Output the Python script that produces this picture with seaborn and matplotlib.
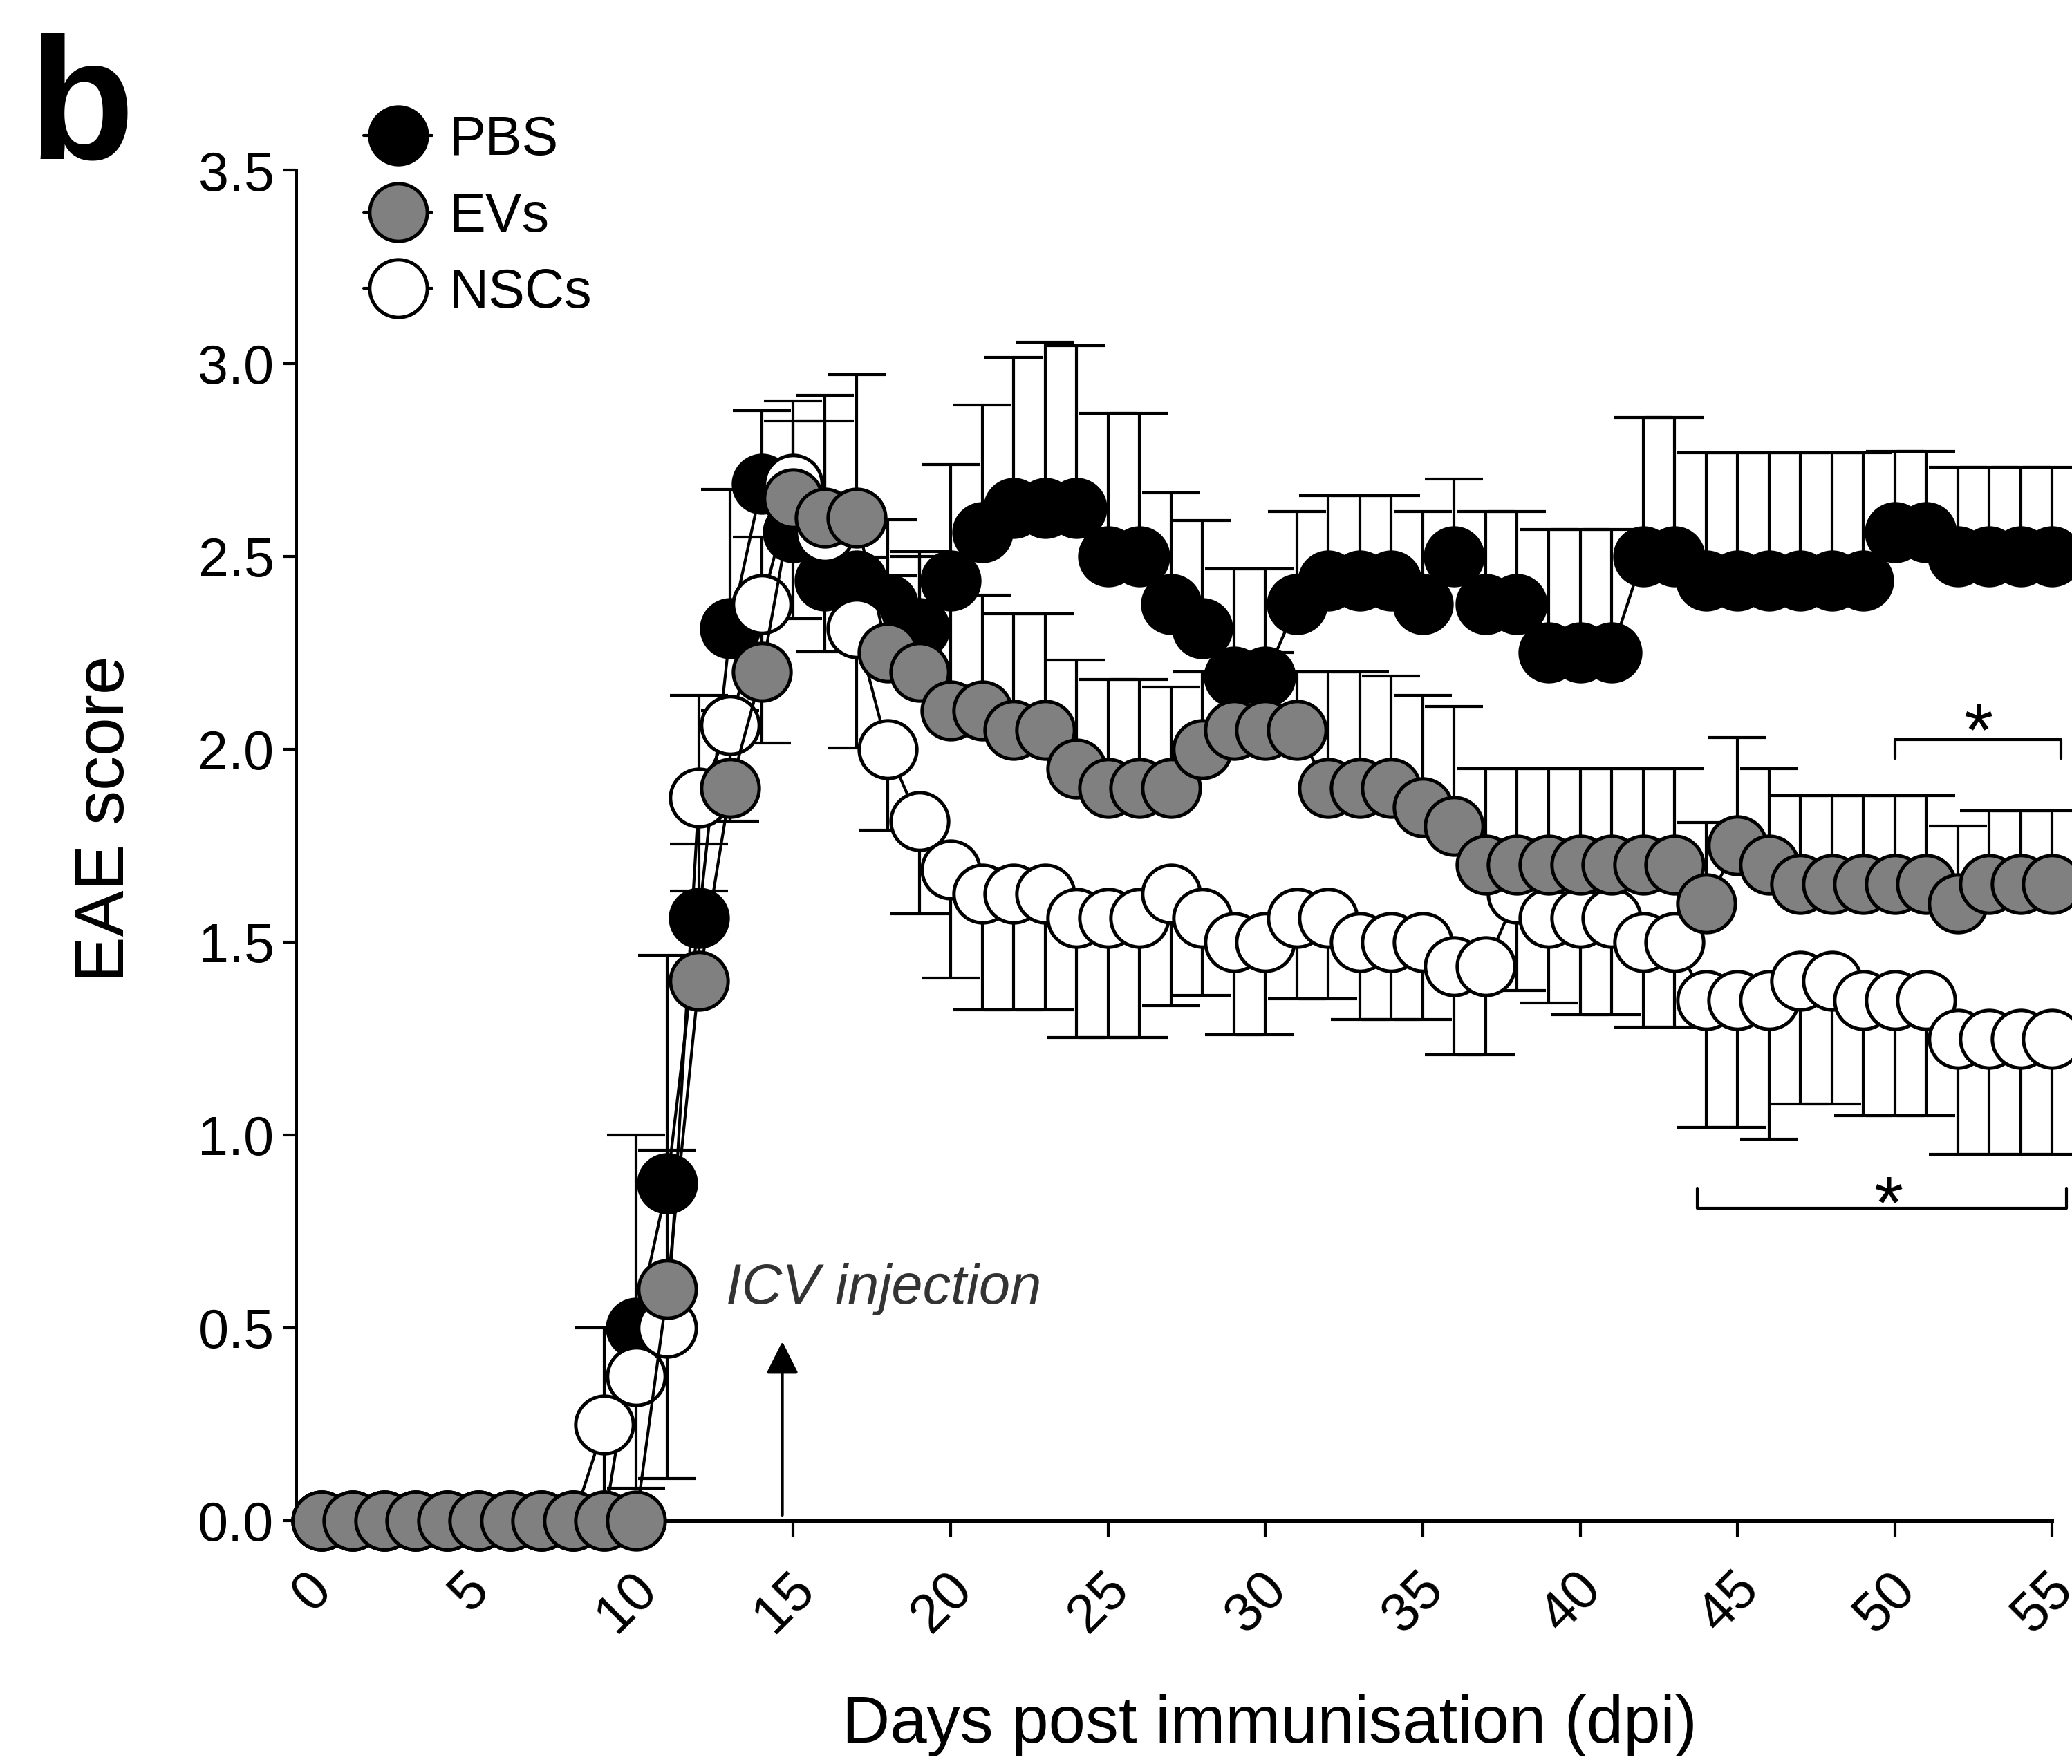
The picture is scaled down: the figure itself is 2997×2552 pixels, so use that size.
import matplotlib
matplotlib.use("Agg")
import matplotlib.pyplot as plt
import matplotlib.transforms as mtransforms
import seaborn as sns
import numpy as np
import pandas as pd

# EAE clinical score, days 0-55 post immunisation
days = list(range(56))

pbs_mean = ([0.0] * 10 + [0.5, 0.875, 1.5625, 2.3125, 2.6875, 2.5625, 2.4375, 2.4375, 2.375, 2.3125,
            2.4375, 2.5625, 2.625, 2.625, 2.625, 2.5, 2.5, 2.375, 2.3125, 2.1875,
            2.1875, 2.375, 2.4375, 2.4375, 2.4375, 2.375, 2.5, 2.375, 2.375, 2.25,
            2.25, 2.25, 2.5, 2.5] + [2.4375] * 6 + [2.5625, 2.5625, 2.5, 2.5, 2.5, 2.5])
evs_mean = ([0.0] * 11 + [0.6, 1.4, 1.9, 2.2, 2.65, 2.6, 2.6, 2.25, 2.2,
            2.1, 2.1, 2.05, 2.05, 1.95, 1.9, 1.9, 1.9, 2.0, 2.05,
            2.05, 2.05, 1.9, 1.9, 1.9, 1.85, 1.8] + [1.7] * 7 + [1.6, 1.75, 1.7]
            + [1.65] * 5 + [1.6, 1.65, 1.65, 1.65])
nsc_mean = ([0.0] * 9 + [0.25, 0.375, 0.5, 1.875, 2.0625, 2.375, 2.6875, 2.5625, 2.3125, 2.0, 1.8125,
            1.6875, 1.625, 1.625, 1.625, 1.5625, 1.5625, 1.5625, 1.625, 1.5625, 1.5,
            1.5, 1.5625, 1.5625, 1.5, 1.5, 1.5, 1.4375, 1.4375, 1.625, 1.5625,
            1.5625, 1.5625, 1.5, 1.5, 1.35, 1.35, 1.35, 1.4, 1.4, 1.35,
            1.35, 1.35, 1.25, 1.25, 1.25, 1.25])

# SEM (PBS and EVs drawn upwards, NSCs downwards)
pbs_sem = ([0.0] * 10 + [0.5, 0.59, 0.07, 0.36, 0.19, 0.34, 0.48, 0.06, 0.22, 0.2,
           0.3, 0.33, 0.39, 0.43, 0.42, 0.37, 0.37, 0.29, 0.28, 0.28,
           0.28, 0.24, 0.22, 0.22, 0.22, 0.24, 0.2, 0.24, 0.24, 0.32,
           0.32, 0.32, 0.36, 0.36] + [0.33] * 6 + [0.21, 0.21, 0.23, 0.23, 0.23, 0.23])
evs_sem = ([0.0] * 11 + [0.36, 0.74, 0.2, 0.35, 0.2, 0.25, 0.37, 0.2, 0.3,
           0.34, 0.3, 0.3, 0.3, 0.28, 0.28, 0.28, 0.26, 0.2, 0.2,
           0.2, 0.15, 0.3, 0.3, 0.29, 0.29, 0.31] + [0.25] * 7 + [0.21, 0.28, 0.25]
           + [0.23] * 5 + [0.2, 0.19, 0.19, 0.19])
nsc_sem = ([0.0] * 9 + [0.25, 0.29, 0.39, 0.12, 0.25, 0.36, 0.35, 0.31, 0.31, 0.21, 0.24,
           0.28, 0.3, 0.3, 0.3, 0.31, 0.31, 0.31, 0.29, 0.2, 0.24,
           0.24, 0.21, 0.21, 0.2, 0.2, 0.2, 0.23, 0.23, 0.25, 0.22,
           0.25, 0.25, 0.22, 0.22, 0.33, 0.33, 0.36, 0.32, 0.32, 0.3,
           0.3, 0.3, 0.3, 0.3, 0.3, 0.3])
nsc_sem_up = [0.0] * 9 + [0.25] + [0.0] * 46

groups = ["PBS", "EVs", "NSCs"]
face_colors = {"PBS": "#000000", "EVs": "#808080", "NSCs": "#ffffff"}

df = pd.DataFrame({
    "day": days * 3,
    "group": ["PBS"] * 56 + ["EVs"] * 56 + ["NSCs"] * 56,
    "score": pbs_mean + evs_mean + nsc_mean,
    "err_lo": [0.0] * 56 + [0.0] * 56 + nsc_sem,
    "err_hi": pbs_sem + evs_sem + nsc_sem_up,
})

sns.set_style("ticks")
plt.rcParams["font.family"] = ["Liberation Sans", "DejaVu Sans"]
plt.rcParams.update({"text.color": "black", "axes.labelcolor": "black",
                     "xtick.color": "black", "ytick.color": "black",
                     "axes.edgecolor": "black"})

fig = plt.figure(figsize=(9.99, 8.507), dpi=300)
ax = fig.add_axes([0.1429, 0.1378, 0.8571, 0.7656])

# error bars behind everything
for g in groups:
    sub = df[df["group"] == g]
    sub = sub[(sub["err_lo"] > 0) | (sub["err_hi"] > 0)]
    ax.errorbar(sub["day"], sub["score"], yerr=[sub["err_lo"], sub["err_hi"]], fmt="none",
                ecolor="black", elinewidth=1.0, capsize=10, capthick=1.0, zorder=2, clip_on=False)

# draw order: PBS bottom, NSCs middle, EVs on top
z = {"PBS": 3, "NSCs": 4, "EVs": 5}
for g in ["PBS", "NSCs", "EVs"]:
    sub = df[df["group"] == g]
    sns.lineplot(data=sub, x="day", y="score", ax=ax, color="black", lw=1.0, marker="o",
                 markersize=20, markerfacecolor=face_colors[g], markeredgecolor="black",
                 markeredgewidth=1.2, zorder=z[g], clip_on=False, label=g, legend=False)

ax.set_xlim(-0.8, 55.63)
ax.set_ylim(0, 3.5)
sns.despine(ax=ax)
ax.spines["bottom"].set_bounds(-0.8, 55)
ax.spines["left"].set_linewidth(1.2)
ax.spines["bottom"].set_linewidth(1.2)

ax.set_xticks(range(0, 56, 5))
ax.set_yticks(np.arange(0, 3.51, 0.5))
ax.set_yticklabels([f"{v:.1f}" for v in np.arange(0, 3.51, 0.5)])
ax.tick_params(axis="y", length=4.6, width=1.0, labelsize=19, pad=3)
ax.tick_params(axis="x", length=5.5, width=1.0, labelsize=19, pad=9)
shift = mtransforms.ScaledTranslation(-3 / 72, 0, fig.dpi_scale_trans)
for lab in ax.get_xticklabels():
    lab.set_rotation(45)
    lab.set_ha("center")
    lab.set_transform(lab.get_transform() + shift)

ax.set_xlabel("Days post immunisation (dpi)", fontsize=23)
ax.set_ylabel("EAE score", fontsize=24)
ax.xaxis.set_label_coords(0.548, -0.128)
ax.yaxis.set_label_coords(-0.089, 0.52)

# ICV injection marker
ax.annotate("", xy=(14.65, 0.48), xytext=(14.65, 0.0),
            arrowprops=dict(arrowstyle="-|>", color="black", lw=1.0, mutation_scale=24))
ax.text(12.85, 0.60, "ICV injection", style="italic", fontsize=19.5, color="#333333",
        ha="left", va="center")

# significance brackets
ax.plot([50, 50, 55.27, 55.27], [1.976, 2.024, 2.024, 1.976], color="black", lw=1.0, clip_on=False)
ax.text(52.65, 1.985, "*", fontsize=26, ha="center", va="baseline")
ax.plot([43.72, 43.72, 55.46, 55.46], [0.863, 0.81, 0.81, 0.863], color="black", lw=1.0, clip_on=False)
ax.text(49.8, 0.76, "*", fontsize=26, ha="center", va="baseline")

handles, labels = ax.get_legend_handles_labels()
order = [labels.index(g) for g in groups]
ax.legend([handles[i] for i in order], [labels[i] for i in order],
          loc="upper left", bbox_to_anchor=(0.1754, 0.935), bbox_transform=fig.transFigure,
          frameon=False, fontsize=19, handlelength=1.26, handletextpad=0.3,
          labelspacing=0.45, borderpad=0, borderaxespad=0, numpoints=1)

fig.text(0.014, 0.91, "b", fontsize=60, fontweight="bold", va="baseline", ha="left")

fig.savefig("out.png", dpi=300)
